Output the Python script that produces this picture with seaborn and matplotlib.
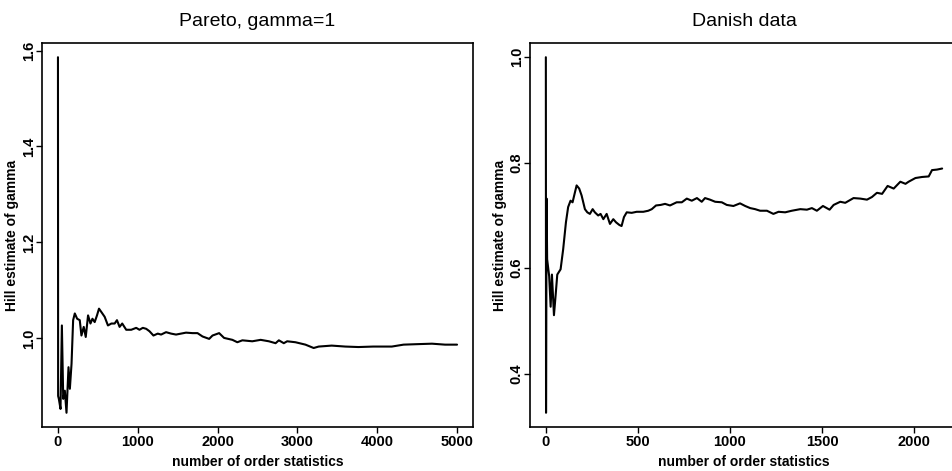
import pandas as pd
import matplotlib
matplotlib.use("Agg")
import matplotlib.pyplot as plt
import seaborn as sns

# Hill estimates (x = number of order statistics)
pareto_k = [1, 3, 12, 33, 50, 67, 87, 108, 133, 150, 171, 191, 212, 241, 274, 295,
            324, 349, 378, 408, 433, 461, 490, 515, 557, 586, 627, 670, 711, 740,
            773, 806, 856, 919, 981, 1022, 1064, 1106, 1147, 1197, 1251, 1293, 1355,
            1418, 1480, 1605, 1687, 1749, 1812, 1895, 1937, 2020, 2082, 2186, 2248,
            2311, 2435, 2540, 2643, 2727, 2768, 2830, 2872, 2976, 3101, 3204, 3267,
            3430, 3600, 3765, 3950, 4183, 4330, 4500, 4686, 4850, 5000]
pareto_gamma = [1.586, 0.88, 0.874, 0.853, 1.027, 0.874, 0.891, 0.845, 0.940, 0.895,
                0.947, 1.038, 1.052, 1.041, 1.038, 1.006, 1.024, 1.003, 1.048, 1.031,
                1.041, 1.034, 1.048, 1.062, 1.052, 1.045, 1.027, 1.031, 1.031, 1.038,
                1.024, 1.031, 1.018, 1.018, 1.022, 1.018, 1.022, 1.020, 1.015, 1.006,
                1.010, 1.008, 1.013, 1.010, 1.008, 1.012, 1.011, 1.011, 1.004, 0.999,
                1.006, 1.011, 1.001, 0.997, 0.992, 0.996, 0.994, 0.997, 0.994, 0.990,
                0.996, 0.990, 0.994, 0.992, 0.987, 0.980, 0.983, 0.985, 0.983, 0.982,
                0.983, 0.983, 0.987, 0.988, 0.989, 0.987, 0.987]

danish_k = [1, 2, 5, 8, 19, 27, 34, 45, 55, 63, 81, 95, 110, 122, 135, 146, 159, 168,
            182, 195, 213, 226, 240, 255, 267, 285, 298, 313, 331, 349, 367, 382, 400,
            412, 425, 440, 467, 494, 530, 557, 576, 599, 624, 648, 675, 711, 739, 766,
            793, 821, 847, 865, 892, 920, 956, 983, 1019, 1055, 1083, 1110, 1137, 1164,
            1201, 1236, 1264, 1300, 1336, 1382, 1418, 1445, 1472, 1505, 1541, 1563,
            1599, 1626, 1671, 1708, 1744, 1771, 1798, 1826, 1856, 1889, 1925, 1953,
            1970, 2007, 2043, 2079, 2097, 2124, 2152]
danish_gamma = [1.000, 0.326, 0.732, 0.617, 0.585, 0.527, 0.588, 0.511, 0.553, 0.588,
                0.598, 0.636, 0.687, 0.716, 0.728, 0.725, 0.744, 0.757, 0.751, 0.738,
                0.712, 0.706, 0.703, 0.712, 0.706, 0.700, 0.703, 0.693, 0.703, 0.684,
                0.693, 0.687, 0.682, 0.680, 0.697, 0.706, 0.705, 0.707, 0.707, 0.709,
                0.712, 0.719, 0.720, 0.722, 0.719, 0.725, 0.725, 0.732, 0.728, 0.733,
                0.726, 0.733, 0.730, 0.726, 0.725, 0.720, 0.718, 0.723, 0.718, 0.714,
                0.712, 0.709, 0.709, 0.703, 0.707, 0.706, 0.709, 0.712, 0.711, 0.714,
                0.709, 0.718, 0.711, 0.720, 0.726, 0.724, 0.733, 0.732, 0.730, 0.735,
                0.743, 0.741, 0.756, 0.751, 0.764, 0.760, 0.764, 0.771, 0.773, 0.774,
                0.786, 0.787, 0.789]

pareto_xticks = [0, 1000, 2000, 3000, 4000, 5000]
pareto_yticks = [1.0, 1.2, 1.4, 1.6]
danish_xticks = [0, 500, 1000, 1500, 2000]
danish_yticks = [0.4, 0.6, 0.8, 1.0]


def s_limits(values):
    # S-plus style 4% padding on each side
    lo, hi = min(values), max(values)
    pad = 0.04 * (hi - lo)
    return lo - pad, hi + pad


def draw_panel(ax, k, gamma, title, xticks, yticks):
    df = pd.DataFrame({"k": k, "gamma": gamma})
    sns.lineplot(data=df, x="k", y="gamma", ax=ax, color="black", linewidth=1.5,
                 sort=False, estimator=None)
    ax.set_xlim(*s_limits(k))
    ax.set_ylim(*s_limits(gamma))
    ax.set_xticks(xticks)
    ax.set_yticks(yticks)
    ax.set_xticklabels([str(t) for t in xticks], fontsize=10.5, fontweight="bold")
    ax.set_yticklabels([f"{t:.1f}" for t in yticks], fontsize=10.5, fontweight="bold",
                       rotation=90, va="center")
    ax.tick_params(axis="x", direction="out", length=4, width=1, pad=2)
    ax.tick_params(axis="y", direction="out", length=4, width=1, pad=0.5)
    ax.set_title(title, fontsize=14, pad=12)
    ax.set_xlabel("number of order statistics", fontsize=10, fontweight="bold", labelpad=4)
    ax.set_ylabel("Hill estimate of gamma", fontsize=10, fontweight="bold", labelpad=2)
    for sp in ax.spines.values():
        sp.set_linewidth(1.2)
        sp.set_color("black")


sns.set_theme(style="ticks", rc={"text.color": "black", "axes.labelcolor": "black",
                                 "xtick.color": "black", "ytick.color": "black"})
plt.rcParams["font.family"] = ["Liberation Sans", "DejaVu Sans"]

fig = plt.figure(figsize=(9.53, 4.71), dpi=100)
ax1 = fig.add_axes([42 / 953, 44 / 471, 431 / 953, 384 / 471])
ax2 = fig.add_axes([530 / 953, 44 / 471, 428 / 953, 384 / 471])

draw_panel(ax1, pareto_k, pareto_gamma, "Pareto, gamma=1", pareto_xticks, pareto_yticks)
draw_panel(ax2, danish_k, danish_gamma, "Danish data", danish_xticks, danish_yticks)

fig.savefig("out.png", dpi=100, facecolor="white")
